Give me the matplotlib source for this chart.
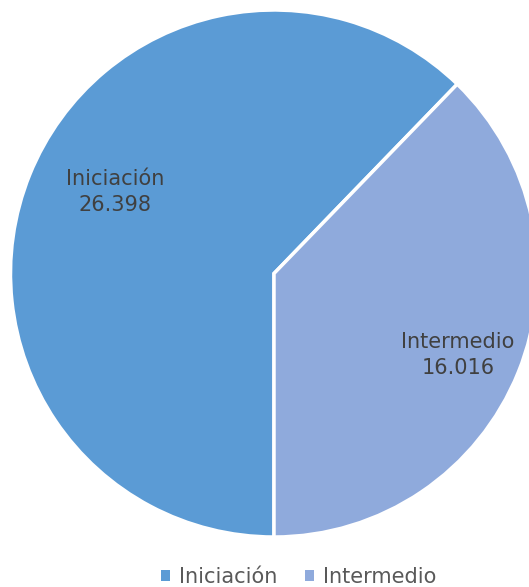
import matplotlib.pyplot as plt
from matplotlib.patches import Patch

labels = ["Iniciación", "Intermedio"]
values = [26398, 16016]
value_text = ["26.398", "16.016"]
colors = ["#5B9BD5", "#8FAADC"]

W, H = 529, 587
fig = plt.figure(figsize=(W / 100, H / 100), dpi=100)
ax = fig.add_axes([0, 0, 1, 1])

cx, cy, r = 274, -273.5, 263.5
ax.pie(values, colors=colors, startangle=-90, counterclock=False,
       center=(cx, cy), radius=r, frame=True,
       wedgeprops=dict(edgecolor="white", linewidth=2.5))
ax.set_xlim(0, W)
ax.set_ylim(-H, 0)
ax.set_aspect("equal")
ax.axis("off")

txt_color = "#404040"
ax.text(115, -192, labels[0] + "\n" + value_text[0], ha="center", va="center",
        fontsize=15, color=txt_color, linespacing=1.4)
ax.text(458, -355, labels[1] + "\n" + value_text[1], ha="center", va="center",
        fontsize=15, color=txt_color, linespacing=1.4)

handles = [Patch(facecolor=c, edgecolor="none") for c in colors]
fig.legend(handles, labels, loc="center", bbox_to_anchor=(0.565, 1 - 577 / H),
           ncol=2, frameon=False, fontsize=15, labelcolor="#595959",
           handlelength=0.42, handleheight=0.42, handletextpad=0.45, columnspacing=1.3)

fig.savefig("out.png", dpi=100)
